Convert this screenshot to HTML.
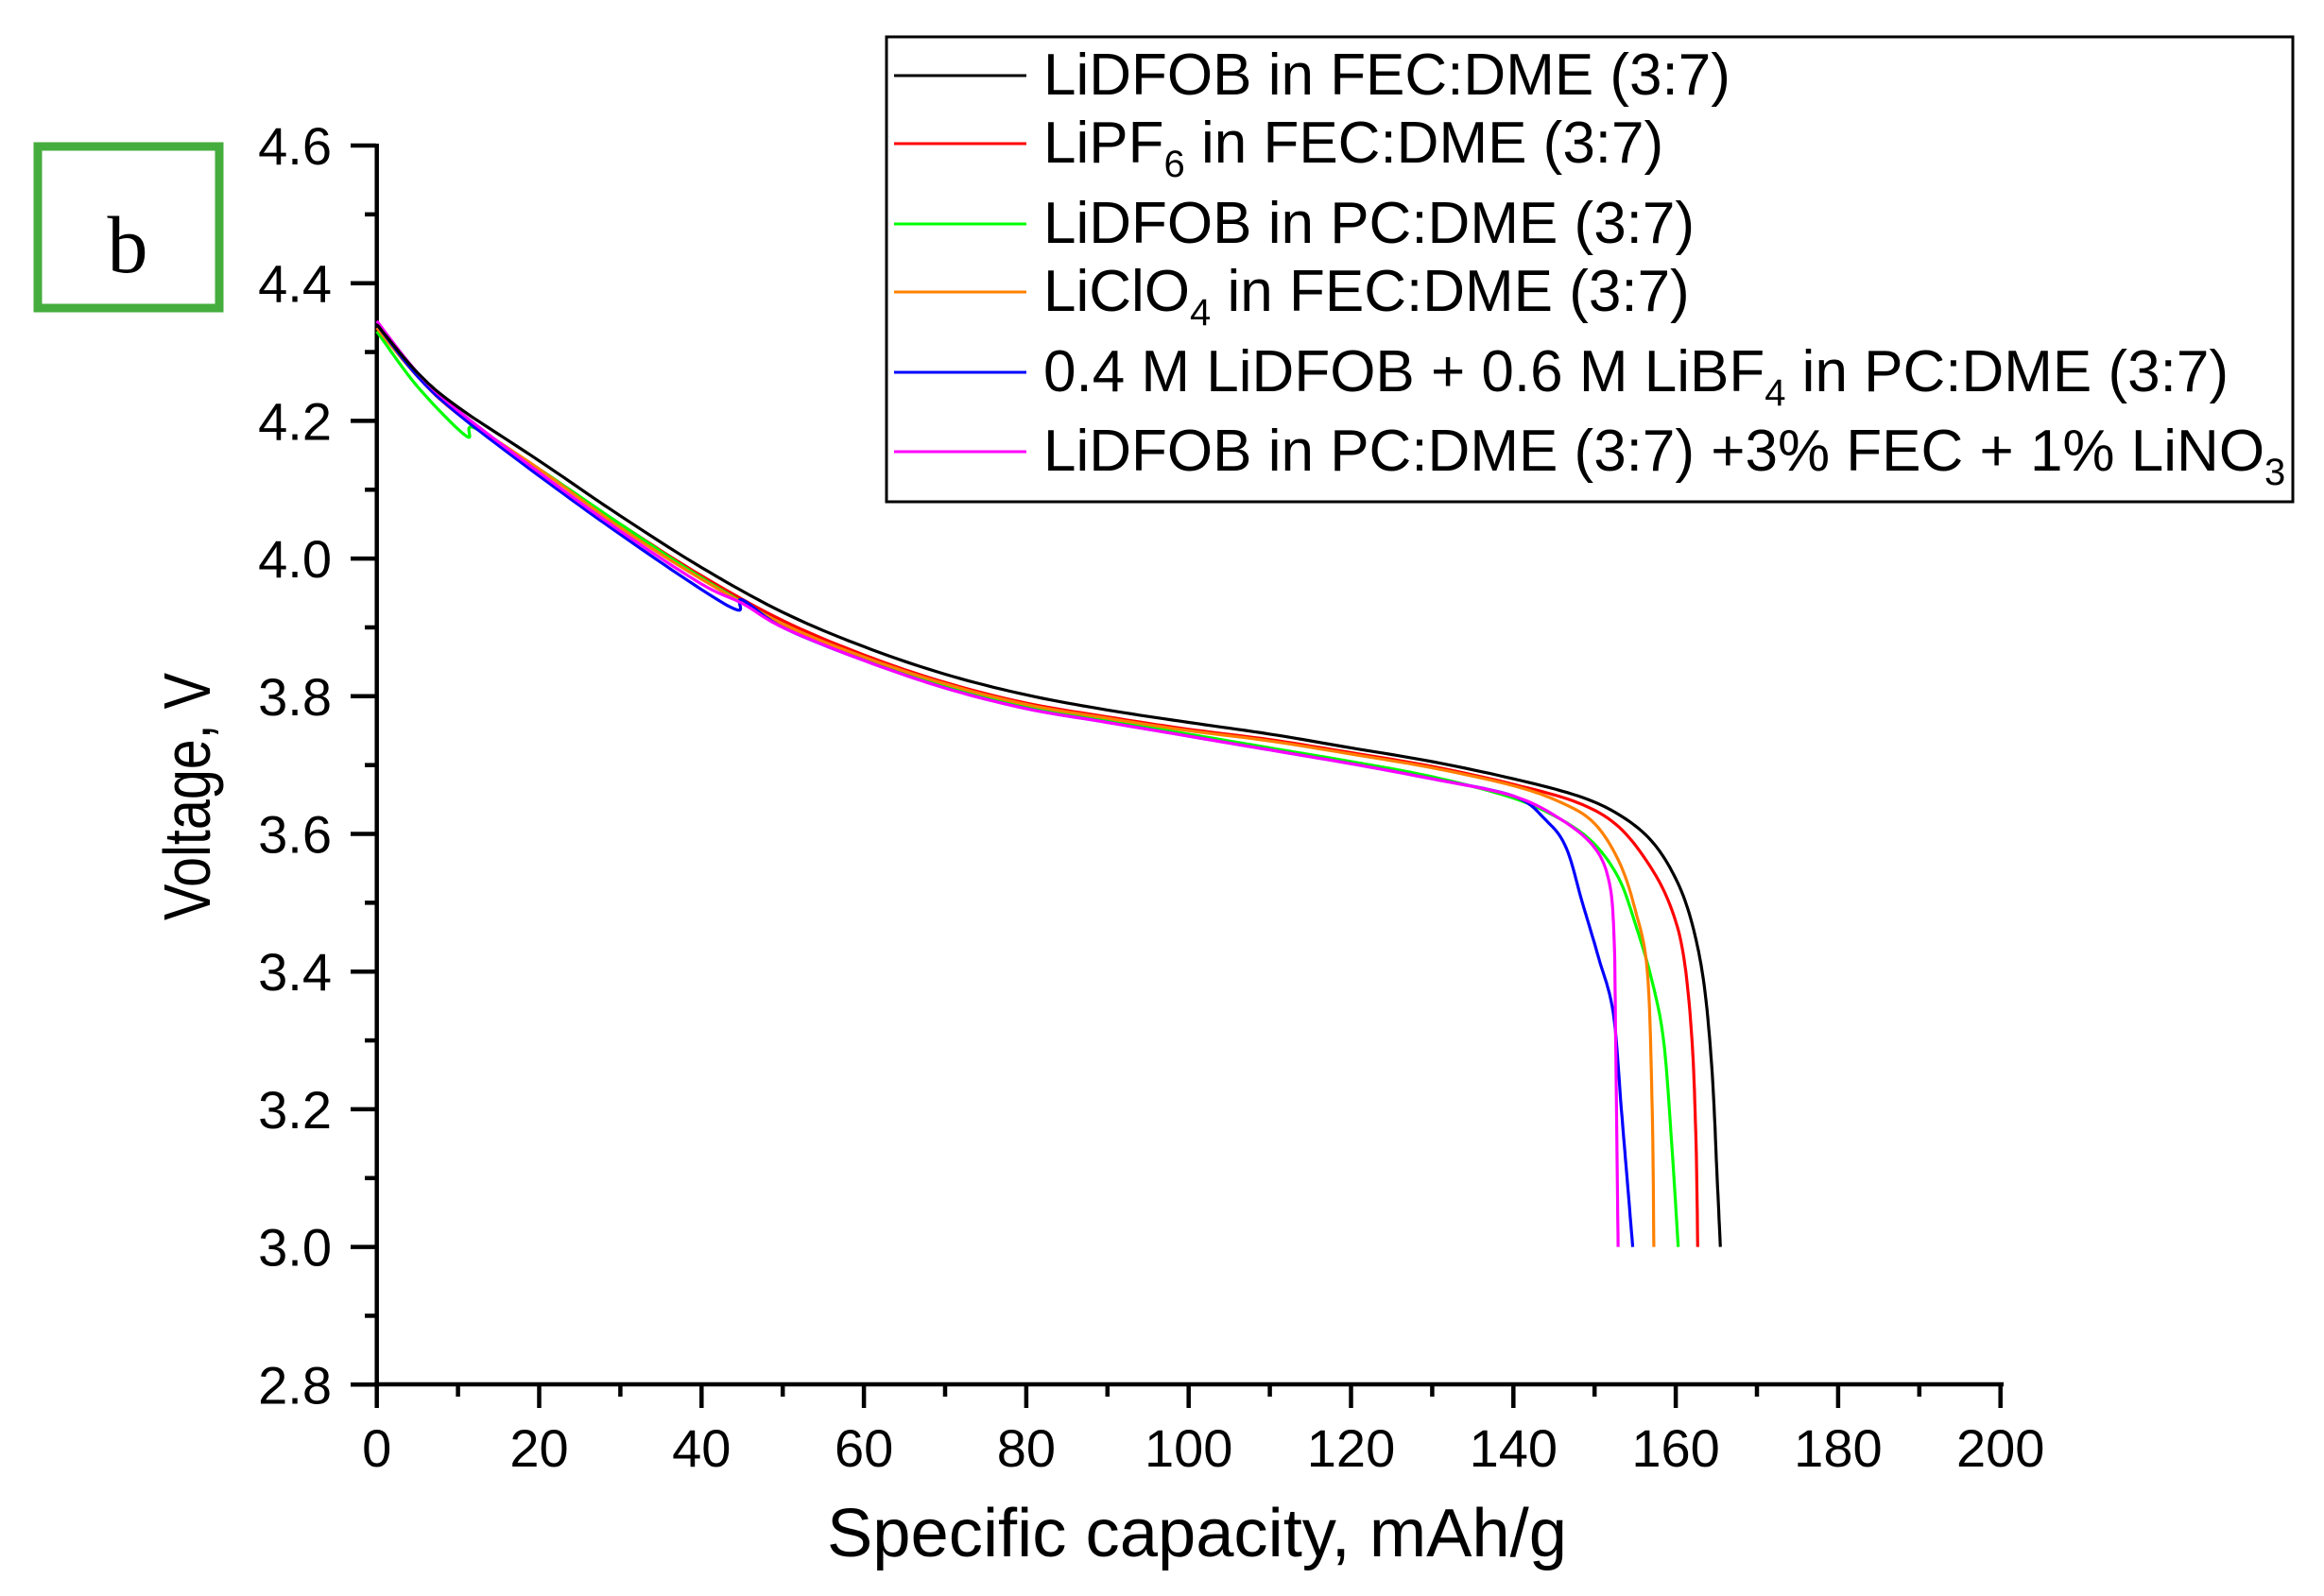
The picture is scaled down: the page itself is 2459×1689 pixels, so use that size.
<!DOCTYPE html>
<html><head><meta charset="utf-8"><style>
html,body{margin:0;padding:0;background:#fff;}
svg text{font-family:"Liberation Sans",Arial,sans-serif;}
</style></head><body>
<svg id="s" width="2459" height="1684" xmlns="http://www.w3.org/2000/svg">
<rect x="0" y="0" width="2459" height="1684" fill="#fff"/>
<rect x="40" y="155" width="192" height="171" fill="none" stroke="#45ad3d" stroke-width="9"/>
<text x="135" y="288" font-size="86" text-anchor="middle" style="font-family:'Liberation Serif',serif">b</text>
<g id="axes" stroke="#000" stroke-width="4.5" fill="none"></g>
<g id="labels" font-size="56" fill="#000"></g>
<text x="875" y="1647" font-size="72" textLength="783" lengthAdjust="spacingAndGlyphs">Specific capacity, mAh/g</text>
<text transform="translate(222,843) rotate(-90)" font-size="70" text-anchor="middle" textLength="262" lengthAdjust="spacingAndGlyphs">Voltage, V</text>
<g id="curves" fill="none" stroke-width="3.2" stroke-linejoin="round"></g>
<rect x="938" y="39" width="1488" height="492" fill="#fff" stroke="#000" stroke-width="3"/>
<g stroke-width="3">
<line x1="946" x2="1086" y1="80" y2="80" stroke="#000"/>
<line x1="946" x2="1086" y1="152" y2="152" stroke="#ff0000"/>
<line x1="946" x2="1086" y1="237" y2="237" stroke="#00ff00"/>
<line x1="946" x2="1086" y1="309" y2="309" stroke="#ff8000"/>
<line x1="946" x2="1086" y1="394" y2="394" stroke="#0000ff"/>
<line x1="946" x2="1086" y1="478" y2="478" stroke="#ff00ff"/>
</g>
<g font-size="62" fill="#000">
<text x="1104" y="100">LiDFOB in FEC:DME (3:7)</text>
<text x="1104" y="172">LiPF<tspan font-size="40" dy="15">6</tspan><tspan dy="-15"> in FEC:DME (3:7)</tspan></text>
<text x="1104" y="257">LiDFOB in PC:DME (3:7)</text>
<text x="1104" y="329">LiClO<tspan font-size="40" dy="15">4</tspan><tspan dy="-15"> in FEC:DME (3:7)</tspan></text>
<text x="1104" y="414">0.4 M LiDFOB + 0.6 M LiBF<tspan font-size="40" dy="15">4</tspan><tspan dy="-15"> in PC:DME (3:7)</tspan></text>
<text x="1104" y="498">LiDFOB in PC:DME (3:7) +3% FEC + 1% LiNO<tspan font-size="40" dy="15">3</tspan></text>
</g>
</svg>
<script>
var NS="http://www.w3.org/2000/svg";
function X(c){return 398.7+8.59*c;}
function Y(v){return 154+(4.6-v)*728.5;}
function el(t,a,p){var e=document.createElementNS(NS,t);for(var k in a)e.setAttribute(k,a[k]);if(p)p.appendChild(e);return e;}
var ax=document.getElementById('axes'),lb=document.getElementById('labels');
el('line',{x1:398.7,x2:398.7,y1:152,y2:1467},ax);
el('line',{x1:396,x2:2120,y1:1465,y2:1465},ax);
for(var i=0;i<=18;i++){var v=2.8+i*0.1,y=Y(v),maj=i%2==0;
 el('line',{x1:maj?371:386,x2:398,y1:y,y2:y},ax);
 if(maj){var t=el('text',{x:351,y:y+20,'text-anchor':'end'},lb);t.textContent=v.toFixed(1);}}
for(var i=0;i<=20;i++){var c=i*10,x=X(c),maj=i%2==0;
 el('line',{x1:x,x2:x,y1:1465,y2:maj?1490:1478},ax);
 if(maj){var t=el('text',{x:x,y:1552,'text-anchor':'middle'},lb);t.textContent=c;}}
var D={
"#ff0000":[[0,4.335],[5,4.265],[10,4.21],[20,4.13],[30,4.05],[40,3.975],[50,3.91],[60,3.86],[70,3.82],[80,3.79],[90,3.77],[100,3.752],[110,3.737],[120,3.718],[130,3.698],[140,3.672],[148,3.645],[153,3.61],[157,3.55],[159.5,3.49],[161,3.42],[162,3.3],[162.5,3.15],[162.7,3.0]],
"#00ff00":[[0,4.33],[5,4.25],[11,4.178],[12,4.19],[20,4.13],[30,4.05],[40,3.972],[50,3.905],[60,3.855],[70,3.815],[80,3.785],[90,3.765],[100,3.745],[110,3.725],[120,3.705],[130,3.683],[140,3.652],[146,3.62],[150,3.585],[153,3.535],[155,3.47],[157,3.39],[158.5,3.3],[159.5,3.15],[160.3,3.0]],
"#ff8000":[[0,4.335],[5,4.265],[10,4.21],[20,4.13],[30,4.045],[40,3.97],[50,3.905],[60,3.857],[70,3.818],[80,3.788],[90,3.768],[100,3.75],[110,3.735],[120,3.716],[130,3.696],[140,3.67],[146,3.645],[150,3.615],[153,3.56],[155,3.49],[156.5,3.4],[157.1,3.2],[157.3,3.0]],
"#0000ff":[[0,4.34],[5,4.265],[10,4.21],[20,4.12],[30,4.035],[40,3.955],[44.5,3.925],[45,3.94],[50,3.9],[60,3.852],[70,3.812],[80,3.782],[90,3.762],[100,3.742],[110,3.722],[120,3.702],[130,3.68],[140,3.655],[144,3.62],[146.5,3.58],[148.5,3.5],[150.5,3.42],[152.3,3.34],[153.3,3.2],[154,3.1],[154.7,3.0]],
"#ff00ff":[[0,4.345],[5,4.27],[10,4.215],[20,4.125],[30,4.04],[40,3.963],[45,3.935],[50,3.9],[60,3.852],[70,3.812],[80,3.782],[90,3.762],[100,3.742],[110,3.722],[120,3.702],[130,3.68],[140,3.655],[146,3.62],[150,3.58],[151.8,3.53],[152.4,3.45],[152.6,3.3],[152.9,3.0]],
"#000000":[[0,4.34],[5,4.27],[10,4.22],[20,4.142],[30,4.062],[40,3.987],[50,3.922],[60,3.872],[70,3.832],[80,3.802],[90,3.78],[100,3.762],[110,3.745],[120,3.725],[130,3.705],[140,3.68],[148,3.655],[153,3.628],[157,3.59],[160,3.535],[162,3.47],[163.5,3.38],[164.5,3.25],[165.1,3.1],[165.5,3.0]]
};
var cg=document.getElementById('curves');
for(var col in D){var p=D[col],pts=[];
 for(var i=0;i<p.length-1;i++){var p0=p[Math.max(i-1,0)],p1=p[i],p2=p[i+1],p3=p[Math.min(i+2,p.length-1)];
  for(var k=0;k<10;k++){var t=k/10,t2=t*t,t3=t2*t;
   var f=function(a,b,c,d){return 0.5*(2*b+(-a+c)*t+(2*a-5*b+4*c-d)*t2+(-a+3*b-3*c+d)*t3);};
   pts.push(X(f(p0[0],p1[0],p2[0],p3[0])).toFixed(1)+","+Y(f(p0[1],p1[1],p2[1],p3[1])).toFixed(1));}}
 var l=p[p.length-1];pts.push(X(l[0]).toFixed(1)+","+Y(l[1]).toFixed(1));
 el('polyline',{points:pts.join(" "),stroke:col},cg);}
</script>
</body></html>
